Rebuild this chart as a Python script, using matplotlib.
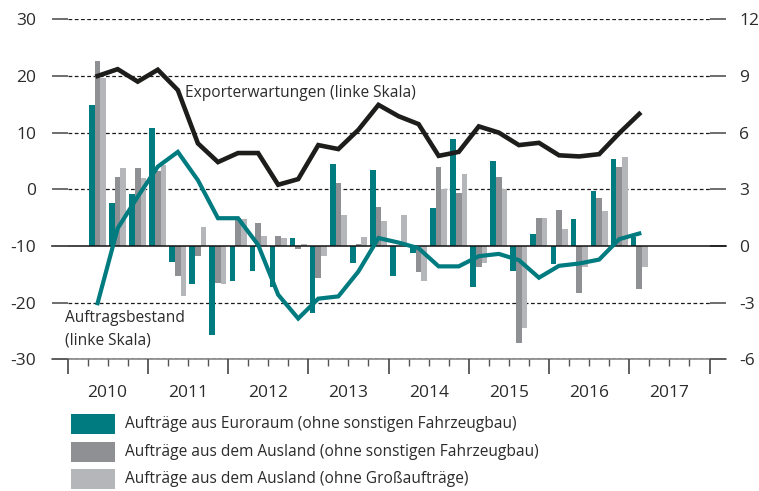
import matplotlib.pyplot as plt
import matplotlib.transforms as mtransforms
from matplotlib.patches import Rectangle
import numpy as np

plt.rcParams["font.family"] = ["Open Sans", "DejaVu Sans"]

# quarter labels, 2010-Q2 .. 2017-Q1
QUARTERS = [
    "2010-Q2", "2010-Q3", "2010-Q4",
    "2011-Q1", "2011-Q2", "2011-Q3", "2011-Q4",
    "2012-Q1", "2012-Q2", "2012-Q3", "2012-Q4",
    "2013-Q1", "2013-Q2", "2013-Q3", "2013-Q4",
    "2014-Q1", "2014-Q2", "2014-Q3", "2014-Q4",
    "2015-Q1", "2015-Q2", "2015-Q3", "2015-Q4",
    "2016-Q1", "2016-Q2", "2016-Q3", "2016-Q4",
    "2017-Q1",
]

# left scale (balance values)
EXPORTERWARTUNGEN = [20.0, 21.2, 19.0, 21.1, 17.5, 8.1, 4.8, 6.4, 6.4, 0.8, 1.8, 7.8, 7.1, 10.5,
                     14.9, 12.9, 11.5, 5.9, 6.6, 11.1, 10.0, 7.8, 8.2, 6.0, 5.8, 6.2, 9.9, 13.3]
AUFTRAGSBESTAND = [-20.1, -6.9, -1.3, 4.0, 6.6, 1.6, -5.1, -5.1, -9.8, -18.6, -22.8, -19.3, -18.9, -14.5,
                   -8.6, -9.4, -10.4, -13.6, -13.6, -11.8, -11.4, -12.5, -15.6, -13.5, -13.1, -12.4, -8.8, -7.8]

# right scale (percent changes)
EURORAUM = [7.46, 2.29, 2.75, 6.26, -0.83, -2.0, -4.7, -1.85, -1.3, -2.19, 0.44, -3.56, 4.34, -0.92,
            4.02, -1.59, -0.35, 2.03, 5.65, -2.19, 4.5, -1.3, 0.64, -0.97, 1.43, 2.91, 4.6, 0.46]
AUSLAND = [9.8, 3.67, 4.11, 3.99, -1.59, -0.53, -1.94, 1.46, 1.24, 0.53, -0.18, -1.71, 3.35, 0.1,
           2.08, 0.0, -1.36, 4.2, 2.82, -1.09, 3.67, -5.15, 1.46, 1.9, -2.47, 2.54, 4.16, -2.26]
AUSLAND_OHNE_GROSS = [8.9, 4.11, 3.58, 4.29, -2.63, 1.02, -2.0, 1.41, 0.53, 0.44, 0.1, -0.53, 1.64, 0.49,
                      1.32, 1.64, -1.84, 3.0, 3.81, -0.88, 3.0, -4.32, 1.46, 0.9, -1.13, 1.87, 4.71, -1.09]

YEARS = [2010, 2011, 2012, 2013, 2014, 2015, 2016, 2017]
LEFT_TICKS = [-30, -20, -10, 0, 10, 20, 30]
RIGHT_TICKS = [-6, -3, 0, 3, 6, 9, 12]

LEGEND_LABELS = [
    "Aufträge aus Euroraum (ohne sonstigen Fahrzeugbau)",
    "Aufträge aus dem Ausland (ohne sonstigen Fahrzeugbau)",
    "Aufträge aus dem Ausland (ohne Großaufträge)",
]

TEAL = "#007b80"
DARK = "#8f9094"
LIGHT = "#b5b6b9"
TXT = "#2b2b2b"
W, H = 759, 491


def quarter_pos(label):
    year, q = label.split("-Q")
    return int(year) + (int(q) - 1) / 4 + 0.125


x = np.array([quarter_pos(q) for q in QUARTERS])

fig = plt.figure(figsize=(W / 100, H / 100), dpi=100)
ax = fig.add_axes([67.5 / W, 131.7 / H, 642 / W, 340 / H])
ax2 = ax.twinx()

# bars on the base axes (right scale)
bw = 0.0707
ax.bar(x - bw, EURORAUM, bw, color=TEAL, zorder=3)
ax.bar(x, AUSLAND, bw, color=DARK, zorder=3)
ax.bar(x + bw, AUSLAND_OHNE_GROSS, bw, color=LIGHT, zorder=3)
ax.set_ylim(-6, 12)
ax.set_xlim(2010, 2018)

for v in [-6, -3, 3, 6, 9, 12]:
    ax.axhline(v, color="#1a1a1a", lw=0.9, ls=(0, (3, 2)), zorder=1)
ax.axhline(-6, color="#888888", lw=1.2, zorder=0, xmin=-0.024, xmax=1.025, clip_on=False)
ax.axhline(0, color="#111111", lw=1.1, zorder=4, xmin=-0.024, xmax=1.025, clip_on=False)

ax.yaxis.tick_right()
ax.set_yticks(RIGHT_TICKS)
ax.set_yticklabels([str(v) for v in RIGHT_TICKS])
ax.tick_params(axis="y", length=11.5, width=1.2, color="#555555", pad=10,
               labelsize=12.5, labelcolor=TXT)

ax.set_xticks(range(2010, 2019))
ax.set_xticks(np.arange(2010, 2018.01, 0.25), minor=True)
ax.tick_params(axis="x", which="major", length=11, width=1.2, color="#444444", labelbottom=False)
ax.tick_params(axis="x", which="minor", length=5.2, width=1.0, color="#555555")
for s in ax.spines.values():
    s.set_visible(False)

trans = mtransforms.blended_transform_factory(ax.transData, ax.transAxes)
for yr in YEARS:
    ax.text(yr + 0.5, -0.099, str(yr), transform=trans, ha="center", va="center",
            fontsize=12.5, color=TXT)

# lines on the twin axes (left scale)
ax2.plot(x, EXPORTERWARTUNGEN, color="#1d1d1b", lw=3.3, solid_joinstyle="miter", zorder=5)
ax2.plot(x, AUFTRAGSBESTAND, color=TEAL, lw=3.0, solid_joinstyle="miter", zorder=5)
ax2.set_ylim(-30, 30)
ax2.yaxis.tick_left()
ax2.set_yticks(LEFT_TICKS)
ax2.set_yticklabels([str(v) for v in LEFT_TICKS])
ax2.tick_params(axis="y", length=11.5, width=1.2, color="#555555", pad=11,
                labelsize=12.5, labelcolor=TXT)
for s in ax2.spines.values():
    s.set_visible(False)

ax2.text(2011.464, 17.0, "Exporterwartungen (linke Skala)", ha="left", va="center",
         fontsize=11.2, color=TXT)
ax2.text(2009.97, -22.7, "Auftragsbestand", ha="left", va="center", fontsize=11.2, color=TXT)
ax2.text(2009.97, -26.6, "(linke Skala)", ha="left", va="center", fontsize=11.2, color=TXT)

# legend
rows = [(TEAL, 424), (DARK, 451.5), (LIGHT, 479)]
for (col, yc), lab in zip(rows, LEGEND_LABELS):
    fig.add_artist(Rectangle((71 / W, (H - yc - 10) / H), 44 / W, 20 / H,
                             transform=fig.transFigure, color=col, lw=0))
    fig.text(125 / W, (H - yc) / H, lab, ha="left", va="center", fontsize=11.2, color=TXT)

fig.savefig("out.png", dpi=100)
